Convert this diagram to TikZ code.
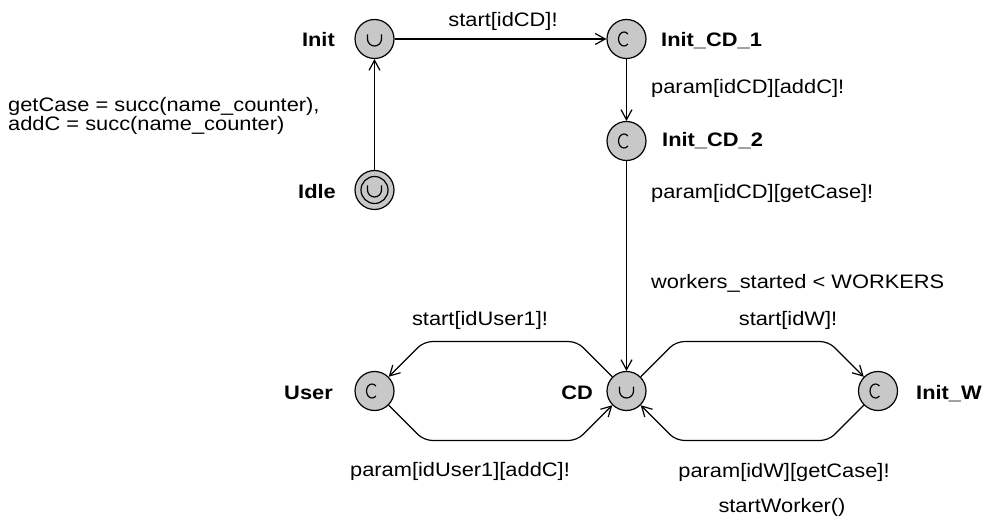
\documentclass[tikz,border=0pt]{standalone}
\usepackage{fontspec}
\setmainfont{Liberation Sans}[FakeStretch=1.12]
\usetikzlibrary{arrows.meta,calc}
\definecolor{locfill}{RGB}{200,200,200}
\newcommand\dfont{\fontsize{19.5pt}{17pt}\selectfont}
\begin{document}
\begin{tikzpicture}[x=1pt,y=-1pt,
  loc/.style={circle, draw, line width=1.2pt, fill=locfill, minimum size=39pt, inner sep=0pt},
  lbl/.style={font=\dfont, inner sep=0pt},
  nm/.style={font=\dfont\bfseries, inner sep=0pt},
  edge/.style={line width=1.2pt, rounded corners=8pt, -{Straight Barb[length=10pt,width=11pt]}},
  symb/.style={line width=1.2pt}]
\fill[white] (0,0) rectangle (983,524);
\useasboundingbox (0,0) rectangle (983,524);
% locations
\node[loc] (Init) at (374.5,39) {};
\node[loc] (CD1) at (626.5,39) {};
\node[loc] (CD2) at (626.5,141) {};
\node[loc] (Idle) at (374.5,190) {};
\node[loc] (CD) at (626.5,391) {};
\node[loc] (User) at (374.5,391) {};
\node[loc] (InitW) at (878,391) {};
% symbols
\draw[symb] (Idle) circle[radius=13.5pt];
\foreach \n in {Init,CD,Idle}{
  \draw[symb] ($(\n)+(-7,-4.5)$) -- ($(\n)+(-7,0)$) arc[start angle=180,end angle=360,radius=7pt] -- ($(\n)+(7,-4.5)$);
}
\foreach \n in {CD1,CD2,User,InitW}{
  \draw[symb] ($(\n)+(1.4,-4.95)$) arc[start angle=45,end angle=315,x radius=5.5pt,y radius=7pt];
}
% names
\node[nm, anchor=base east] at (335,47) {Init};
\node[nm, anchor=base east] at (336,199) {Idle};
\node[nm, anchor=base west] at (661,47) {Init\_CD\_1};
\node[nm, anchor=base west] at (662,147) {Init\_CD\_2};
\node[nm, anchor=base east] at (333,399) {User};
\node[nm, anchor=base east] at (593,399) {CD};
\node[nm, anchor=base west] at (916,399) {Init\_W};
% edges
\draw[edge] (Idle) -- (Init);
\draw[edge] (Init) -- (CD1);
\draw[edge] (CD1) -- (CD2);
\draw[edge] (CD2) -- (CD);
\draw[edge] (CD.135) -- ++(-35.2,-35.2) -- ($(User.45)+(35.2,-35.2)$) -- (User.45);
\draw[edge] (User.-45) -- ++(35.2,35.2) -- ($(CD.-135)+(-35.2,35.2)$) -- (CD.-135);
\draw[edge] (CD.45) -- ++(35.2,-35.2) -- ($(InitW.135)+(-35.2,-35.2)$) -- (InitW.135);
\draw[edge] (InitW.-135) -- ++(-35.2,35.2) -- ($(CD.-45)+(35.2,35.2)$) -- (CD.-45);
% edge labels
\node[lbl, anchor=base] at (503,27) {start[idCD]!};
\node[lbl, anchor=base west] at (651,94) {param[idCD][addC]!};
\node[lbl, anchor=base west] at (651,199) {param[idCD][getCase]!};
\node[lbl, anchor=base west] at (651,288) {workers\_started < WORKERS};
\node[lbl, anchor=base] at (480,325) {start[idUser1]!};
\node[lbl, anchor=base] at (788,325) {start[idW]!};
\node[lbl, anchor=base] at (460,476) {param[idUser1][addC]!};
\node[lbl, anchor=base] at (784,477) {param[idW][getCase]!};
\node[lbl, anchor=base] at (782,512) {startWorker()};
\node[lbl, anchor=north west, align=left] at (8,97) {getCase = succ(name\_counter),\\addC = succ(name\_counter)};
\end{tikzpicture}
\end{document}
